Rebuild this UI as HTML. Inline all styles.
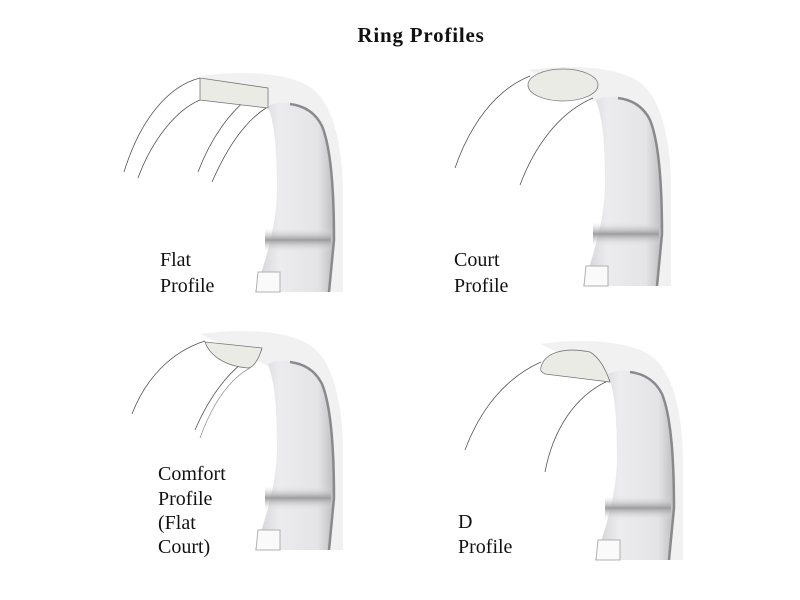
<!DOCTYPE html>
<html><head><style>
body{margin:0;background:#fff;width:800px;height:600px;overflow:hidden}
svg{display:block}
text{font-family:"Liberation Serif",serif;fill:#111}
</style></head><body>
<svg width="800" height="600" viewBox="0 0 800 600">
<defs>
<linearGradient id="gi" x1="0" x2="1" y1="0" y2="0">
<stop offset="0" stop-color="#d0d0d2"/><stop offset="0.3" stop-color="#ececee"/><stop offset="0.8" stop-color="#e4e4e6"/><stop offset="1" stop-color="#bdbdc0"/>
</linearGradient>
<linearGradient id="gs" x1="0" x2="0" y1="0" y2="1">
<stop offset="0" stop-color="#e6e6e8" stop-opacity="0"/><stop offset="0.5" stop-color="#9d9da0"/><stop offset="1" stop-color="#e6e6e8" stop-opacity="0"/>
</linearGradient>
<g id="ring">
<path d="M200,76 C240,70 292,72 314,90 C334,108 342,145 343,190 L343,292 L255,292 C262,270 277,230 277,190 C277,150 275,125 268,108 Z" fill="#f1f1f2"/>
<path d="M268,106 C285,98 306,104 319,122 C331,146 334,190 334,240 L329,292 L255,292 C262,270 277,230 277,190 C277,150 275,125 268,106 Z" fill="url(#gi)"/>
<path d="M290,104 C306,106 316,114 322,126 C331,148 334,190 334,240 L329,292" fill="none" stroke="#8a8a8d" stroke-width="2.5"/>
<rect x="265" y="228" width="66" height="24" fill="url(#gs)"/>
<path d="M258,272 L280,272 L280,292 L256,292 Z" fill="#fafafa" stroke="#b0b0b2" stroke-width="1"/>
</g>
</defs>
<text x="421" y="42" text-anchor="middle" font-size="21" font-weight="bold" letter-spacing="0.8">Ring Profiles</text>

<!-- Flat -->
<use href="#ring"/>
<g fill="none" stroke="#555" stroke-width="0.8">
<path d="M200,78 C168,86 140,120 124,172"/>
<path d="M200,100 C176,110 152,140 138,178"/>
<path d="M262,90 C236,102 212,135 198,172"/>
<path d="M266,108 C244,122 226,150 212,182"/>
</g>
<path d="M200,78 L268,88 L268,108 L200,100 Z" fill="#ebebe6" stroke="#777" stroke-width="0.8"/>
<text x="160" y="266" font-size="20">Flat</text>
<text x="160" y="292" font-size="20">Profile</text>

<!-- Court -->
<use href="#ring" transform="translate(328,-6)"/>
<g fill="none" stroke="#555" stroke-width="0.8">
<path d="M530,76 C495,90 470,125 455,168"/>
<path d="M593,98 C560,112 535,145 520,185"/>
</g>
<ellipse cx="563" cy="85" rx="35" ry="16" fill="#ebebe6" stroke="#777" stroke-width="0.8"/>
<text x="454" y="266" font-size="20">Court</text>
<text x="454" y="292" font-size="20">Profile</text>

<!-- Comfort -->
<use href="#ring" transform="translate(0,258)"/>
<g fill="none" stroke="#555" stroke-width="0.8">
<path d="M205,341 C170,352 145,380 132,414"/>
<path d="M262,350 C232,365 210,395 195,430"/>
<path d="M250,368 C228,380 212,405 200,438" stroke="#999"/>
</g>
<path d="M205,342 L262,348 C258,362 252,368 248,368 C225,366 210,356 205,342 Z" fill="#ebebe6" stroke="#777" stroke-width="0.8"/>
<text x="158" y="480" font-size="20">Comfort</text>
<text x="158" y="505" font-size="20">Profile</text>
<text x="158" y="529" font-size="20">(Flat</text>
<text x="158" y="553" font-size="20">Court)</text>

<!-- D -->
<use href="#ring" transform="translate(340,268)"/>
<g fill="none" stroke="#555" stroke-width="0.8">
<path d="M541,362 C505,378 480,410 465,450"/>
<path d="M610,380 C575,395 553,430 545,472"/>
</g>
<path d="M541,367 C545,352 565,347 590,352 C600,358 606,370 610,382 L545,374 C541,372 540,370 541,367 Z" fill="#ebebe6" stroke="#777" stroke-width="0.8"/>
<text x="458" y="528" font-size="20">D</text>
<text x="458" y="553" font-size="20">Profile</text>
</svg>
</body></html>
